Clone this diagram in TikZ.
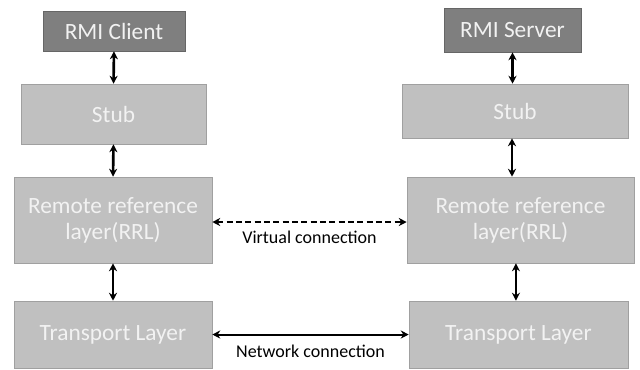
\documentclass[tikz,border=0pt]{standalone}
\usepackage{fontspec}
\setmainfont{Carlito}
\usetikzlibrary{arrows.meta}

\definecolor{darkbox}{RGB}{127,127,127}
\definecolor{lightbox}{RGB}{192,192,192}
\definecolor{boxline}{RGB}{160,160,160}
\definecolor{boxtext}{RGB}{242,242,242}

\tikzset{
  layer/.style={draw=boxline, fill=lightbox, text=boxtext, align=center,
    font=\fontsize{17.5}{19.5}\selectfont, inner sep=0pt},
  endpoint/.style={layer, fill=darkbox, draw=darkbox!80!black},
  link/.style={line width=2pt, {Stealth[length=6pt,width=6pt]}-{Stealth[length=6pt,width=6pt]}},
  linklabel/.style={font=\fontsize{13.5}{15}\selectfont, text=black}
}

\begin{document}
\begin{tikzpicture}[x=0.75pt,y=0.75pt,yscale=-1,xscale=1]
\useasboundingbox (0,0) rectangle (640,369);

% Client side
\node [endpoint, minimum width=142*0.75pt, minimum height=40*0.75pt] (client) at (114,31) {RMI Client};
\node [layer, minimum width=185*0.75pt, minimum height=60*0.75pt] (stubL) at (113.5,114) {Stub};
\node [layer, minimum width=198*0.75pt, minimum height=86*0.75pt] (rrlL) at (113,220) {Remote reference\\layer(RRL)};
\node [layer, minimum width=198*0.75pt, minimum height=67*0.75pt] (transL) at (113,334.5) {Transport Layer};

% Server side
\node [endpoint, minimum width=137*0.75pt, minimum height=44*0.75pt] (server) at (512.5,30) {RMI Server};
\node [layer, minimum width=226*0.75pt, minimum height=54*0.75pt] (stubR) at (515,111) {Stub};
\node [layer, minimum width=227*0.75pt, minimum height=86*0.75pt] (rrlR) at (520.5,220) {Remote reference\\layer(RRL)};
\node [layer, minimum width=219*0.75pt, minimum height=67*0.75pt] (transR) at (518.5,334.5) {Transport Layer};

%Straight Lines
\draw [link] (client.south) -- (stubL.north);
\draw [link] (stubL.south) -- (rrlL.north);
\draw [link] (rrlL.south) -- (transL.north);
\draw [link] (server.south) -- (server.south |- stubR.north);
\draw [link] ([xshift=-2.25pt]stubR.south) -- ([xshift=-2.25pt]stubR.south |- rrlR.north);
\draw [link] ([xshift=-3.4pt]rrlR.south) -- ([xshift=-3.4pt]rrlR.south |- transR.north);

% Connections between sides
\draw [link, line width=1.5pt, dash pattern=on 4.5pt off 2.5pt] ([yshift=1.5pt]rrlL.east) -- ([yshift=1.5pt]rrlR.west)
  node [midway, below=3pt, linklabel] (virt) {Virtual connection};
\draw [link, line width=1.5pt] (transL.east) -- (transR.west)
  node [midway, below=4pt, linklabel] (net) {Network connection};

\end{tikzpicture}
\end{document}
